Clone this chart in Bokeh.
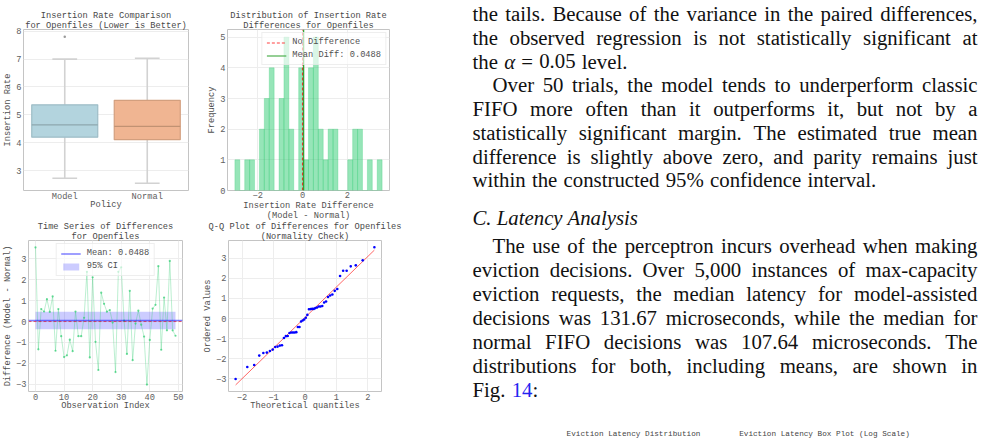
import re
import numpy as np
from bokeh.plotting import figure
from bokeh.layouts import row, column
from bokeh.models import Range1d, Legend, LegendItem, Title
from bokeh.core.properties import value
from bokeh.embed import file_html
from bokeh.resources import INLINE

# ---------------- data ----------------
policies = ["Model", "Normal"]
box_q1 = [4.20, 4.11]
box_median = [4.64, 4.59]
box_q3 = [5.36, 5.52]
whisker_low = [2.73, 2.55]
whisker_high = [7.00, 7.03]
outlier_policy = ["Model"]
outlier_value = [7.80]

diffs = [3.55, -1.33, 0.60, 0.48, 1.07, 0.46, 1.20, -1.40, 0.60, -0.70,
         -1.70, -1.62, -0.87, -1.42, 0.48, -0.70, -0.70, 0.18, 2.38, -1.72,
         2.12, -0.97, -2.32, 1.38, 0.85, 0.47, 0.55, -0.05, -2.42, 2.38,
         2.60, 0.04, -1.55, 1.47, -1.85, -0.10, 0.52, -0.15, -0.72, -3.02,
         -0.88, 0.62, 0.80, 2.65, -1.35, 1.15, -0.42, 2.90, -0.42, -0.68]
mean_diff = 0.0488
ci_low = -0.37
ci_high = 0.47
hist_bins = 30

theoretical_q = [-2.204, -1.833, -1.614, -1.453, -1.323, -1.212, -1.114, -1.025,
                 -0.945, -0.870, -0.799, -0.732, -0.669, -0.608, -0.549, -0.492,
                 -0.437, -0.383, -0.330, -0.277, -0.226, -0.175, -0.125, -0.075,
                 -0.025, 0.025, 0.075, 0.125, 0.175, 0.226, 0.277, 0.330, 0.383,
                 0.437, 0.492, 0.549, 0.608, 0.669, 0.732, 0.799, 0.870, 0.945,
                 1.025, 1.114, 1.212, 1.323, 1.453, 1.614, 1.833, 2.204]

box_ticks_y = [3, 4, 5, 6, 7, 8]
hist_ticks_x = [-2, 0, 2]
hist_ticks_y = [0, 1, 2, 3, 4, 5]
ts_ticks_x = [0, 10, 20, 30, 40, 50]
ts_ticks_y = [-3, -2, -1, 0, 1, 2, 3]
qq_ticks_x = [-2, -1, 0, 1, 2]
qq_ticks_y = [-3, -2, -1, 0, 1, 2, 3]
hist_xlabel = ["Insertion Rate Difference", "(Model - Normal)"]

para1 = [
    ("the tails. Because of the variance in the paired differences,", False, True),
    ("the observed regression is not statistically significant at", False, True),
    ("the $α$ = 0.05 level.", False, False),
    ("Over 50 trials, the model tends to underperform classic", True, True),
    ("FIFO more often than it outperforms it, but not by a", False, True),
    ("statistically significant margin. The estimated true mean", False, True),
    ("difference is slightly above zero, and parity remains just", False, True),
    ("within the constructed 95% confidence interval.", False, False),
]
heading = "C. Latency Analysis"
para2 = [
    ("The use of the perceptron incurs overhead when making", True, True),
    ("eviction decisions. Over 5,000 instances of max-capacity", False, True),
    ("eviction requests, the median latency for model-assisted", False, True),
    ("decisions was 131.67 microseconds, while the median for", False, True),
    ("normal FIFO decisions was 107.64 microseconds. The", False, True),
    ("distributions for both, including means, are shown in", False, True),
    ("Fig. {14}:", False, False),
]
next_fig_titles = ["Eviction Latency Distribution", "Eviction Latency Box Plot (Log Scale)"]

# ---------------- styling helpers ----------------
MONO = "Liberation Mono"
SERIF = "Liberation Serif"
FS_SMALL = "8.7px"


def add_titles(p, line1, line2):
    for i, t in enumerate([line2, line1]):
        p.add_layout(Title(text=t, align="center", text_font=MONO, text_font_size=FS_SMALL,
                           text_font_style="normal", text_color="#484848",
                           standoff=-3 if i == 0 else -1, offset=0), "above")


def style(p, xticks, yticks, x_std=1, x_lab=-5, y_std=2, y_lab=0):
    p.outline_line_color = "#c4c4c4"
    p.outline_line_width = 1
    for ax in p.axis:
        ax.axis_line_color = None
        ax.major_tick_line_color = None
        ax.minor_tick_line_color = None
        ax.major_tick_out = 0
        ax.major_tick_in = 0
        ax.minor_tick_out = 0
        ax.major_label_text_font = MONO
        ax.major_label_text_font_size = FS_SMALL
        ax.major_label_text_color = "#606060"
        ax.axis_label_text_font = MONO
        ax.axis_label_text_font_size = FS_SMALL
        ax.axis_label_text_font_style = "normal"
        ax.axis_label_text_color = "#505050"
        ax.axis_label_text_line_height = 0.9
    p.xaxis.major_label_standoff = x_std
    p.xaxis.axis_label_standoff = x_lab
    p.yaxis.major_label_standoff = y_std
    p.yaxis.axis_label_standoff = y_lab
    p.xaxis.ticker = xticks
    p.yaxis.ticker = yticks
    p.grid.grid_line_color = "#ededed"
    p.grid.grid_line_width = 1
    p.background_fill_color = "white"
    p.border_fill_color = "white"


def style_legend(leg):
    leg.label_text_font = MONO
    leg.label_text_font_size = FS_SMALL
    leg.label_text_color = "#505050"
    leg.glyph_width = 20
    leg.glyph_height = 9
    leg.label_height = 9
    leg.spacing = 3
    leg.padding = 4
    leg.margin = 3
    leg.label_standoff = 6
    leg.border_line_color = "#dddddd"
    leg.background_fill_alpha = 0.65


# ---------------- 1: box plot ----------------
xs = list(range(len(policies)))
p1 = figure(width=200, height=220, x_range=Range1d(-0.5, 1.5), y_range=Range1d(2.29, 8.06),
            output_backend="svg", toolbar_location=None, title=None,
            min_border_left=23, min_border_right=12, min_border_top=28, min_border_bottom=29)
style(p1, xs, box_ticks_y)
add_titles(p1, "Insertion Rate Comparison", "for Openfiles (Lower is Better)")
p1.xgrid.visible = False
p1.xaxis.major_label_overrides = {i: n for i, n in enumerate(policies)}
p1.xaxis.axis_label = "Policy"
p1.yaxis.axis_label = "Insertion Rate"
box_fill = ["#b3d4de", "#f0b592"]
box_edge = ["#9dbcc6", "#d39f7e"]
med_col = ["#8ea7ae", "#c19273"]
p1.segment(x0=xs, y0=box_q3, x1=xs, y1=whisker_high, line_color="#d2d2d2", line_width=1.6)
p1.segment(x0=xs, y0=box_q1, x1=xs, y1=whisker_low, line_color="#d2d2d2", line_width=1.6)
p1.segment(x0=[x - 0.15 for x in xs], y0=whisker_high, x1=[x + 0.15 for x in xs], y1=whisker_high,
           line_color="#d2d2d2", line_width=1.6)
p1.segment(x0=[x - 0.15 for x in xs], y0=whisker_low, x1=[x + 0.15 for x in xs], y1=whisker_low,
           line_color="#d2d2d2", line_width=1.6)
p1.vbar(x=xs, width=0.8, bottom=box_q1, top=box_q3, fill_color=box_fill, line_color=box_edge, line_width=1.2)
p1.segment(x0=[x - 0.4 for x in xs], y0=box_median, x1=[x + 0.4 for x in xs], y1=box_median,
           line_color=med_col, line_width=1.3)
p1.scatter(x=[policies.index(o) for o in outlier_policy], y=outlier_value, size=2.5,
           color="#9a9a9a", line_color=None)

# ---------------- 2: histogram ----------------
hx = (-3.35, 3.88)
hy = (0, 5.25)
p2 = figure(width=210, height=220, x_range=Range1d(*hx), y_range=Range1d(*hy),
            output_backend="svg", toolbar_location=None, title=None,
            min_border_left=27, min_border_right=21, min_border_top=29, min_border_bottom=30)
style(p2, hist_ticks_x, hist_ticks_y, x_std=1)
add_titles(p2, "Distribution of Insertion Rate", "Differences for Openfiles")
p2.yaxis.axis_label = "Frequency"
# two-line x-axis label as stacked titles below the axis
for i, t in enumerate(hist_xlabel):
    p2.add_layout(Title(text=t, align="center", text_font=MONO, text_font_size=FS_SMALL,
                        text_font_style="normal", text_color="#505050",
                        standoff=-3 if i == 0 else -2, offset=0), "below")
counts, edges = np.histogram(np.array(diffs), bins=hist_bins)
p2.quad(left=edges[:-1], right=edges[1:], bottom=0, top=counts, fill_color="#2ecc71", fill_alpha=0.5,
        line_color="#2ecc71", line_alpha=0.35, line_width=0.8)
r_zero = p2.segment(x0=[0], y0=[hy[0]], x1=[0], y1=[hy[1]], line_color="red", line_dash="3 2",
                    line_width=1.2, line_alpha=0.75)
r_mean = p2.segment(x0=[mean_diff], y0=[hy[0]], x1=[mean_diff], y1=[hy[1]], line_color="#2ca02c",
                    line_width=1.2)
leg2 = Legend(items=[LegendItem(label="No Difference", renderers=[r_zero]),
                     LegendItem(label=f"Mean Diff: {mean_diff:.4f}", renderers=[r_mean])],
              location="top_right")
style_legend(leg2)
p2.add_layout(leg2)

# ---------------- 3: time series ----------------
tx = (-2.45, 51.45)
ty = (-3.35, 3.88)
obs = list(range(len(diffs)))
p3 = figure(width=200, height=219, x_range=Range1d(*tx), y_range=Range1d(*ty),
            output_backend="svg", toolbar_location=None, title=None,
            min_border_left=27, min_border_right=18, min_border_top=18, min_border_bottom=48)
style(p3, ts_ticks_x, ts_ticks_y, x_std=2, x_lab=-2)
add_titles(p3, "Time Series of Differences", "for Openfiles")
p3.xaxis.axis_label = "Observation Index"
p3.yaxis.axis_label = "Difference (Model - Normal)"
r_ci = p3.quad(left=[obs[0]], right=[obs[-1]], bottom=[ci_low], top=[ci_high], fill_color="blue",
               fill_alpha=0.2, line_color=None)
p3.line(obs, diffs, line_color="#2ecc71", line_alpha=0.32, line_width=1)
p3.scatter(obs, diffs, size=2.2, color="#2ecc71", alpha=0.7, line_color=None)
p3.segment(x0=[tx[0]], y0=[0], x1=[tx[1]], y1=[0], line_color="red", line_dash="3 2",
           line_alpha=0.6, line_width=1)
r_m3 = p3.segment(x0=[tx[0]], y0=[mean_diff], x1=[tx[1]], y1=[mean_diff], line_color="blue",
                  line_alpha=0.5, line_width=1.6)
leg3 = Legend(items=[LegendItem(label=f"Mean: {mean_diff:.4f}", renderers=[r_m3]),
                     LegendItem(label="95% CI", renderers=[r_ci])],
              location="top_center")
style_legend(leg3)
p3.add_layout(leg3)

# ---------------- 4: Q-Q plot ----------------
ordered = sorted(diffs)
slope, intercept = np.polyfit(np.array(theoretical_q), np.array(ordered), 1)
p4 = figure(width=210, height=219, x_range=Range1d(-2.43, 2.43), y_range=Range1d(-3.64, 3.89),
            output_backend="svg", toolbar_location=None, title=None,
            min_border_left=27, min_border_right=29, min_border_top=19, min_border_bottom=47)
style(p4, qq_ticks_x, qq_ticks_y, x_std=2, x_lab=-2)
add_titles(p4, "Q-Q Plot of Differences for Openfiles", "(Normality Check)")
p4.xaxis.axis_label = "Theoretical quantiles"
p4.yaxis.axis_label = "Ordered Values"
fit_x = [theoretical_q[0], theoretical_q[-1]]
p4.line(fit_x, [slope * v + intercept for v in fit_x], line_color="red", line_alpha=0.6, line_width=1)
p4.scatter(theoretical_q, ordered, size=2.6, color="blue", line_color=None)

# ---------------- text page ----------------
TW = {' ': 250, '!': 333, '%': 833, '(': 333, ')': 333, ',': 250, '-': 333, '.': 250, '/': 278,
      ':': 278, ';': 278, '=': 564, '?': 444, 'α': 520,
      'A': 722, 'B': 667, 'C': 667, 'D': 722, 'E': 611, 'F': 556, 'G': 722, 'H': 722, 'I': 333,
      'J': 389, 'K': 722, 'L': 611, 'M': 889, 'N': 722, 'O': 722, 'P': 556, 'Q': 722, 'R': 667,
      'S': 556, 'T': 611, 'U': 722, 'V': 722, 'W': 944, 'X': 722, 'Y': 722, 'Z': 611,
      'a': 444, 'b': 500, 'c': 444, 'd': 500, 'e': 444, 'f': 333, 'g': 500, 'h': 500, 'i': 278,
      'j': 278, 'k': 500, 'l': 278, 'm': 778, 'n': 500, 'o': 500, 'p': 500, 'q': 500, 'r': 333,
      's': 389, 't': 278, 'u': 500, 'v': 500, 'w': 722, 'x': 500, 'y': 500, 'z': 444}
FS = 20.8
LEFT, RIGHT, INDENT = 472.0, 977.0, 20.0
TEXT_COL, LINK_COL = "#111111", "#2323f0"


def tw(s):
    return sum(TW.get(ch, 500) for ch in s) * FS / 1000.0


def segs(word):
    out = []
    for m in re.finditer(r"\$([^$]+)\$|\{([^}]+)\}|([^${}]+)", word):
        if m.group(1):
            out.append((m.group(1), "italic", TEXT_COL))
        elif m.group(2):
            out.append((m.group(2), "normal", LINK_COL))
        else:
            out.append((m.group(3), "normal", TEXT_COL))
    return out


groups = {}


def put(x, y, t, style_, color, align="left"):
    g = groups.setdefault((style_, color, align), {"x": [], "y": [], "text": []})
    g["x"].append(x)
    g["y"].append(y)
    g["text"].append(t)


def lay(lines, base, step):
    for k, (txt, indent, justify) in enumerate(lines):
        y = base + k * step
        words = txt.split(" ")
        ws = [sum(tw(s[0]) for s in segs(w)) for w in words]
        x = LEFT + (INDENT if indent else 0.0)
        gap = (RIGHT - x - sum(ws)) / (len(words) - 1) if justify else 0.30 * FS
        for i, w in enumerate(words):
            sg = segs(w)
            if justify and i == len(words) - 1 and len(sg) == 1:
                put(RIGHT, y, sg[0][0], sg[0][1], sg[0][2], "right")
            else:
                xx = x
                for s, st, col in sg:
                    put(xx, y, s, st, col)
                    xx += tw(s)
            x += ws[i] + gap


lay(para1, 13.3, 23.7)
put(LEFT, 216.8, heading, "italic", TEXT_COL)
lay(para2, 245.2, 24.0)

pt = figure(width=572, height=439, x_range=Range1d(410, 982), y_range=Range1d(439, 0),
            output_backend="svg", toolbar_location=None, x_axis_type=None, y_axis_type=None,
            min_border=0)
pt.grid.visible = False
pt.outline_line_color = None
pt.background_fill_color = "white"
pt.border_fill_color = "white"
for (st, col, al), g in groups.items():
    pt.text(x=g["x"], y=g["y"], text=g["text"], text_font=value(SERIF), text_font_size=value(f"{FS}px"),
            text_font_style=st, text_color=col, text_align=al, text_baseline="alphabetic")
pt.text(x=[633, 824], y=[433, 433], text=next_fig_titles, text_font=value(MONO),
        text_font_size=value("7.7px"), text_color="#444444", text_align="center",
        text_baseline="alphabetic")

layout = row(column(row(p1, p2), row(p3, p4)), pt)
open("out.html", "w").write(file_html(layout, INLINE))
